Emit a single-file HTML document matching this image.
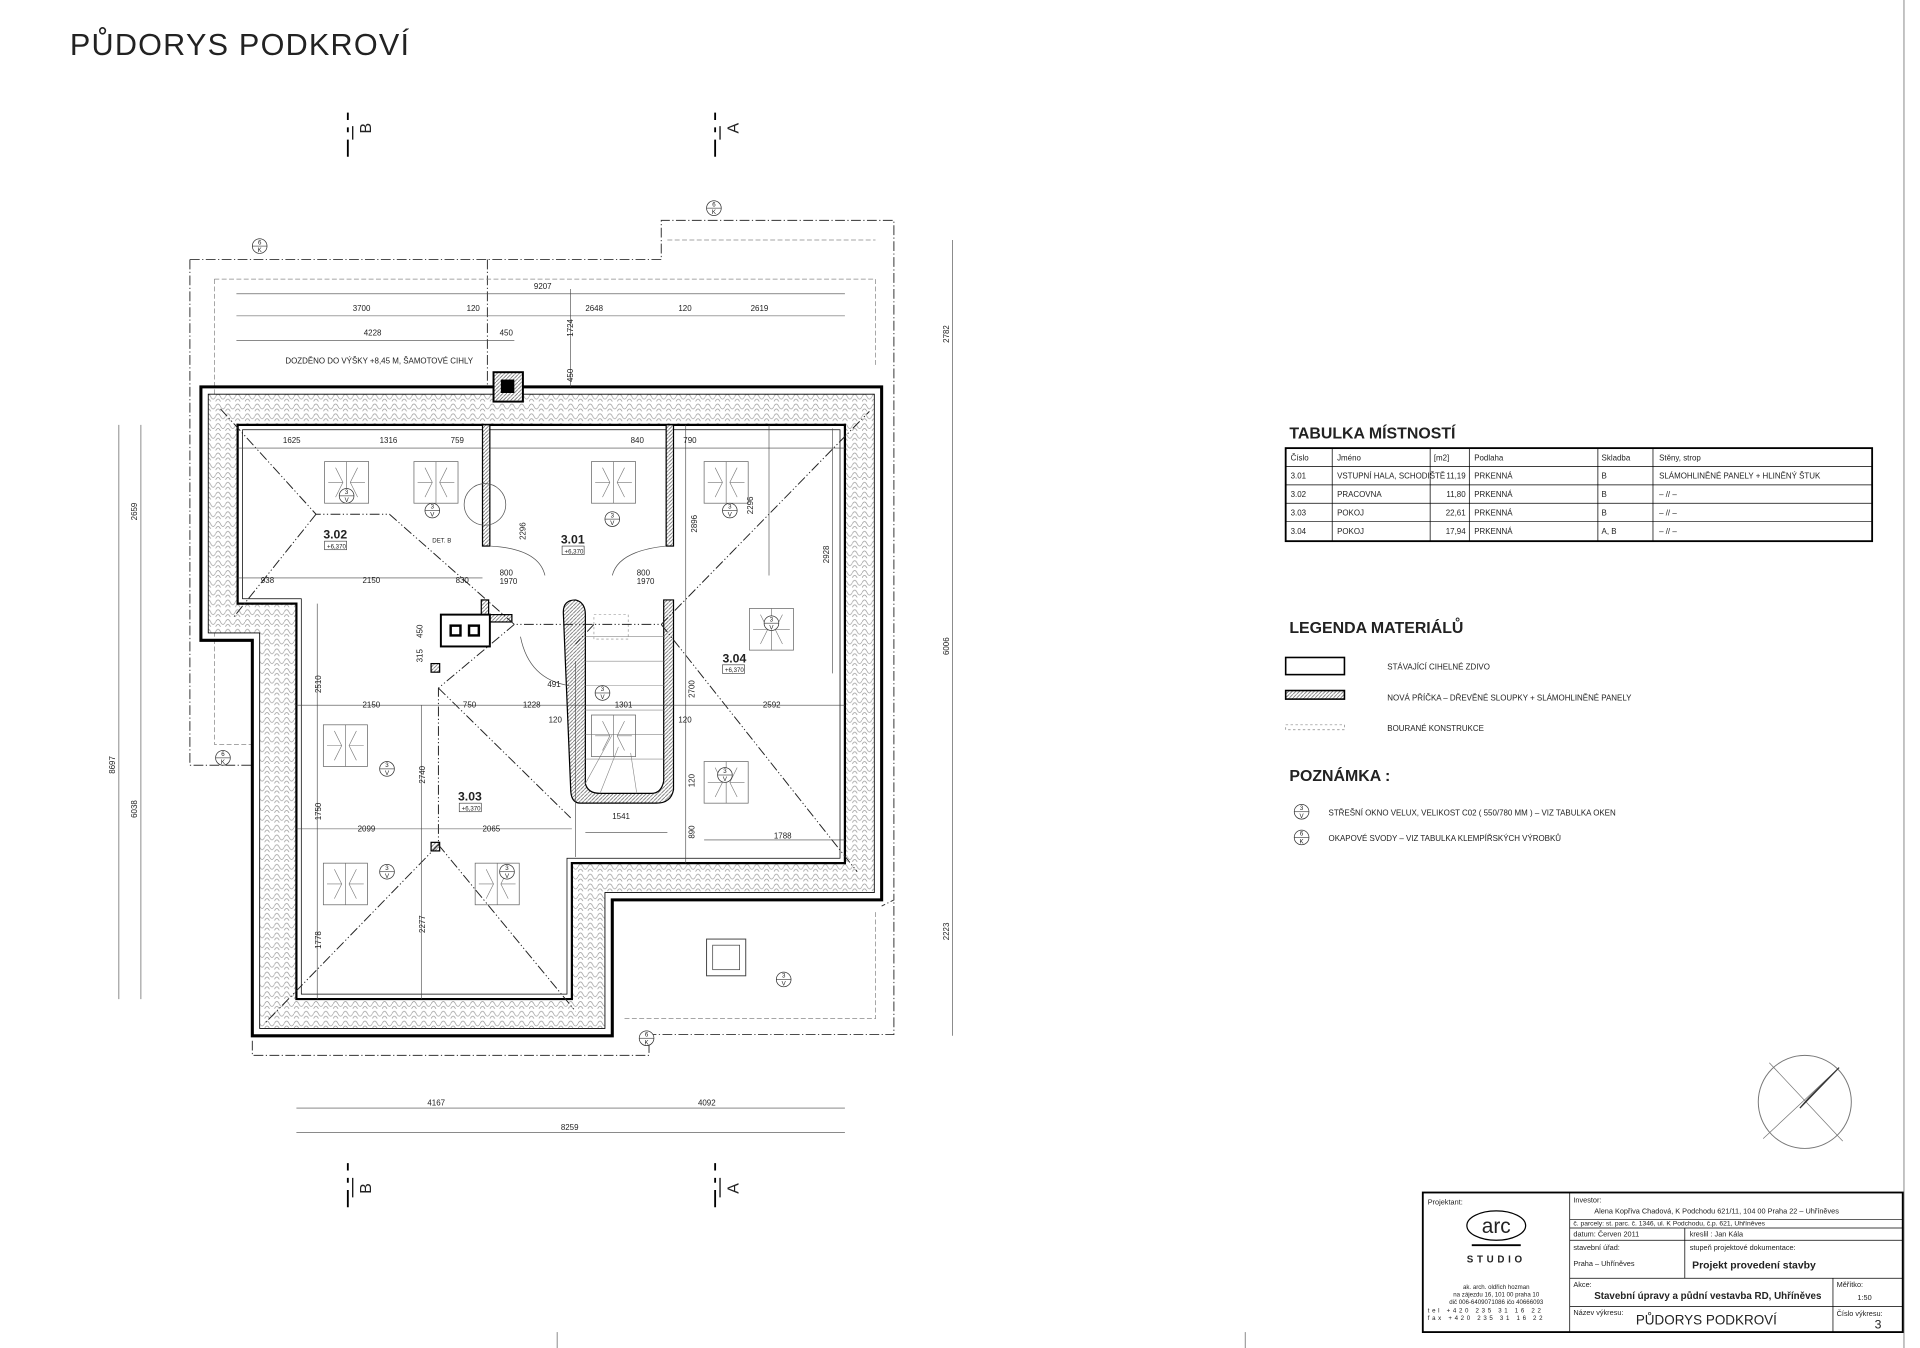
<!DOCTYPE html>
<html><head><meta charset="utf-8"><style>
html,body{margin:0;padding:0;background:#fff}
svg{display:block}
text{font-family:"Liberation Sans",sans-serif;fill:#222}
.s{font-size:6.5px}
.m{font-size:6.5px}
</style></head><body>
<svg width="1920" height="1348" viewBox="0 0 1568 1101" xmlns="http://www.w3.org/2000/svg">
<defs>
<pattern id="ins" width="8" height="8" patternUnits="userSpaceOnUse">
<rect width="8" height="8" fill="#fff"/>
<path d="M0 4 Q2 0 4 4 T8 4 M0 8 Q2 4 4 8 T8 8" fill="none" stroke="#999" stroke-width="0.6"/>
</pattern>
<pattern id="hat" width="3" height="3" patternUnits="userSpaceOnUse">
<rect width="3" height="3" fill="#fff"/><path d="M0 3 L3 0" stroke="#666" stroke-width="0.6"/>
</pattern>
<g id="win">
<rect x="0" y="0" width="36" height="34" fill="none" stroke="#666" stroke-width="0.6"/>
<line x1="18" y1="0" x2="18" y2="34" stroke="#666" stroke-width="0.5"/>
<path d="M3 17 L15 17 M9 5 L15 17 L9 29 M33 17 L21 17 M27 5 L21 17 L27 29" fill="none" stroke="#777" stroke-width="0.5"/>
</g>
<g id="vel"><circle r="6" fill="#fff" stroke="#333" stroke-width="0.6"/><line x1="-6" y1="0" x2="6" y2="0" stroke="#333" stroke-width="0.5"/><text x="0" y="-1.5" font-size="5" text-anchor="middle">3</text><text x="0" y="5" font-size="5" text-anchor="middle">V</text></g>
<g id="ok"><circle r="6" fill="#fff" stroke="#333" stroke-width="0.6"/><line x1="-6" y1="0" x2="6" y2="0" stroke="#333" stroke-width="0.5"/><text x="0" y="-1.5" font-size="5" text-anchor="middle">6</text><text x="0" y="5" font-size="5" text-anchor="middle">K</text></g>
</defs>

<text x="57" y="45" font-size="25" style="font-weight:300;letter-spacing:1px" fill="#111">PŮDORYS PODKROVÍ</text>

<line x1="1555" y1="0" x2="1555" y2="1101" stroke="#888" stroke-width="0.8"/>
<line x1="455" y1="1088" x2="455" y2="1101" stroke="#888" stroke-width="0.8"/>
<line x1="1017" y1="1088" x2="1017" y2="1101" stroke="#888" stroke-width="0.8"/>

<g fill="none" stroke="#333" stroke-width="0.8" stroke-dasharray="8 2 1 2">
<path d="M155 212 L540 212 L540 180 L730 180 L730 735 L720 740"/>
<path d="M155 212 L155 625 L206 625"/>
<path d="M206 850 L206 862 L530 862 L530 845 L730 845 L730 735"/>
<path d="M398 212 L398 316"/>
</g>
<g fill="none" stroke="#888" stroke-width="0.6" stroke-dasharray="4 2">
<path d="M175 228 L715 228 L715 300 M175 228 L175 608 L206 608"/>
<path d="M545 196 L715 196"/>
<path d="M510 832 L715 832 L715 745"/>
</g>

<path fill-rule="evenodd" fill="url(#ins)" stroke="none" d="M170 322 L714 322 L714 729 L494 729 L494 840 L212 840 L212 517 L170 517 Z M194 347 L690 347 L690 705 L467 705 L467 816 L242 816 L242 493 L194 493 Z"/>
<path fill="none" stroke="#000" stroke-width="2.5" d="M164 316 L720 316 L720 735 L500 735 L500 846 L206 846 L206 523 L164 523 Z"/>
<path fill="none" stroke="#000" stroke-width="0.7" d="M170 322 L714 322 L714 729 L494 729 L494 840 L212 840 L212 517 L170 517 Z"/>
<path fill="none" stroke="#000" stroke-width="1.8" d="M194 347 L690 347 L690 705 L467 705 L467 816 L242 816 L242 493 L194 493 Z"/>
<path fill="none" stroke="#000" stroke-width="0.6" d="M198 351 L686 351 L686 701 L463 701 L463 812 L246 812 L246 489 L198 489 Z"/>

<rect x="394" y="347" width="6" height="99" fill="url(#hat)" stroke="#000" stroke-width="1"/>
<rect x="544" y="347" width="6" height="99" fill="url(#hat)" stroke="#000" stroke-width="1"/>
<rect x="393" y="490" width="6" height="14" fill="url(#hat)" stroke="#000" stroke-width="1"/>
<rect x="400" y="502" width="18" height="6" fill="url(#hat)" stroke="#000" stroke-width="1"/>
<path d="M460 500 Q460 490 470 490 Q478 492 478 502 L478 640 Q480 648 490 648 L532 648 Q540 648 542 638 L542 490 L550 490 L550 645 Q548 656 536 656 L474 656 Q466 656 466 644 Z" fill="url(#hat)" stroke="#000" stroke-width="1"/>
<g stroke="#888" stroke-width="0.5" fill="none">
<path d="M478 520 L542 520 M478 540 L542 540 M478 560 L542 560 M478 580 L542 580 M478 600 L542 600 M478 620 L542 620 M478 640 L500 600 M490 648 L505 610 M520 648 L515 615"/>
<rect x="485" y="502" width="28" height="20" stroke-dasharray="2 2"/>
</g>
<rect x="360" y="502" width="40" height="26" fill="#fff" stroke="#000" stroke-width="1.6"/>
<rect x="367" y="510" width="10" height="10" fill="#000"/><rect x="382" y="510" width="10" height="10" fill="#000"/>
<rect x="369" y="512" width="6" height="6" fill="#fff"/><rect x="384" y="512" width="6" height="6" fill="#fff"/>
<rect x="403" y="304" width="24" height="24" fill="url(#hat)" stroke="#000" stroke-width="1.6"/>
<rect x="409" y="310" width="11" height="11" fill="#000"/>
<rect x="352" y="542" width="7" height="7" fill="url(#hat)" stroke="#000"/>
<rect x="352" y="688" width="7" height="7" fill="url(#hat)" stroke="#000"/>

<g fill="none" stroke="#222" stroke-width="0.8" stroke-dasharray="8 2 1 2 1 2">
<path d="M180 334 L258 420 L318 420 L420 510 L540 510 L710 336"/>
<path d="M258 420 L190 505"/>
<path d="M540 510 L700 712"/>
<path d="M420 510 L358 562 L358 690 L216 836"/>
<path d="M358 562 L466 668"/>
<path d="M358 690 L470 826"/>
<path d="M485 510 L470 526"/>
</g>

<g fill="none" stroke="#555" stroke-width="0.6">
<path d="M400 446 Q440 448 445 470 M544 446 Q505 450 500 470"/>
<path d="M425 520 Q432 555 465 560"/>
<circle cx="396" cy="412" r="17"/>
</g>

<use href="#win" x="265" y="377"/><use href="#win" x="338" y="377"/>
<use href="#win" x="483" y="377"/><use href="#win" x="575" y="377"/>
<use href="#win" x="612" y="497"/><use href="#win" x="483" y="584"/>
<use href="#win" x="264" y="592"/><use href="#win" x="575" y="622"/>
<use href="#win" x="264" y="705"/><use href="#win" x="388" y="705"/>
<rect x="577" y="767" width="32" height="30" fill="none" stroke="#444" stroke-width="0.8"/>
<rect x="582" y="772" width="22" height="20" fill="none" stroke="#444" stroke-width="0.6"/>
<use href="#vel" x="283" y="405"/><use href="#vel" x="353" y="417"/><use href="#vel" x="500" y="424"/><use href="#vel" x="596" y="417"/>
<use href="#vel" x="630" y="509"/><use href="#vel" x="492" y="566"/><use href="#vel" x="316" y="628"/><use href="#vel" x="592" y="633"/>
<use href="#vel" x="316" y="712"/><use href="#vel" x="414" y="712"/><use href="#vel" x="640" y="800"/>
<use href="#ok" x="212" y="201"/><use href="#ok" x="583" y="170"/><use href="#ok" x="182" y="619"/><use href="#ok" x="528" y="848"/>

<g font-weight="bold" font-size="10"><text x="264" y="440">3.02</text><text x="458" y="444">3.01</text><text x="590" y="541">3.04</text><text x="374" y="654">3.03</text></g>
<g font-size="5"><rect x="265" y="442" width="18" height="7" fill="none" stroke="#333" stroke-width="0.5"/><text x="267" y="448">+6,370</text>
<rect x="459" y="446" width="18" height="7" fill="none" stroke="#333" stroke-width="0.5"/><text x="461" y="452">+6,370</text>
<rect x="590" y="543" width="18" height="7" fill="none" stroke="#333" stroke-width="0.5"/><text x="592" y="549">+6,370</text>
<rect x="375" y="656" width="18" height="7" fill="none" stroke="#333" stroke-width="0.5"/><text x="377" y="662">+6,370</text></g>

<g stroke="#444" stroke-width="0.5" fill="none">
<path d="M193 240 L690 240 M193 258 L690 258 M193 278 L420 278"/>
<path d="M194 366 L394 366 M400 366 L690 366 M194 472 L394 472 M242 576 L690 576 M242 677 L467 677 M478 680 L545 680 M575 686 L690 686"/>
<path d="M97 347 L97 816 M115 347 L115 816 M778 196 L778 846"/>
<path d="M242 905 L690 905 M242 925 L690 925"/>
<path d="M259 493 L259 816 M344 576 L344 816 M470 540 L470 700 M560 347 L560 705 M628 347 L628 470 M680 350 L680 550 M466 236 L466 316"/>
</g>
<g class="s">
<text x="436" y="236">9207</text><text x="288" y="254">3700</text><text x="381" y="254">120</text><text x="478" y="254">2648</text><text x="554" y="254">120</text><text x="613" y="254">2619</text>
<text x="297" y="274">4228</text><text x="408" y="274">450</text>
<text x="231" y="362">1625</text><text x="310" y="362">1316</text><text x="368" y="362">759</text><text x="515" y="362">840</text><text x="558" y="362">790</text>
<text x="213" y="476">938</text><text x="296" y="476">2150</text><text x="372" y="476">830</text><text x="408" y="470">800</text><text x="408" y="477">1970</text><text x="520" y="470">800</text><text x="520" y="477">1970</text>
<text x="296" y="578">2150</text><text x="378" y="578">750</text><text x="427" y="578">1228</text><text x="502" y="578">1301</text><text x="623" y="578">2592</text>
<text x="447" y="561">491</text><text x="448" y="590">120</text><text x="554" y="590">120</text>
<text x="292" y="679">2099</text><text x="394" y="679">2065</text><text x="500" y="669">1541</text><text x="632" y="685">1788</text>
<text x="349" y="903">4167</text><text x="570" y="903">4092</text><text x="458" y="923">8259</text>
<text x="233" y="297">DOZDĚNO DO VÝŠKY +8,45 M, ŠAMOTOVÉ CIHLY</text><text x="353" y="443" font-size="5">DET. B</text>
</g>
<g class="s">
<text transform="translate(112,425) rotate(-90)">2659</text><text transform="translate(94,632) rotate(-90)">8697</text><text transform="translate(112,668) rotate(-90)">6038</text>
<text transform="translate(775,280) rotate(-90)">2782</text><text transform="translate(775,535) rotate(-90)">6006</text><text transform="translate(775,768) rotate(-90)">2223</text>
<text transform="translate(429,441) rotate(-90)">2296</text><text transform="translate(569,435) rotate(-90)">2896</text><text transform="translate(615,420) rotate(-90)">2296</text><text transform="translate(677,460) rotate(-90)">2928</text>
<text transform="translate(262,566) rotate(-90)">2510</text><text transform="translate(347,640) rotate(-90)">2740</text><text transform="translate(262,670) rotate(-90)">1750</text><text transform="translate(262,775) rotate(-90)">1778</text><text transform="translate(347,762) rotate(-90)">2277</text>
<text transform="translate(567,570) rotate(-90)">2700</text><text transform="translate(567,685) rotate(-90)">890</text><text transform="translate(567,643) rotate(-90)">120</text><text transform="translate(345,521) rotate(-90)">450</text><text transform="translate(345,541) rotate(-90)">315</text><text transform="translate(468,312) rotate(-90)">450</text>
<text transform="translate(468,275) rotate(-90)">1724</text>
</g>

<g stroke="#000" stroke-width="1.5" fill="none">
<path d="M284 92 L284 98 M284 104 L284 108 M284 114 L284 128"/>
<path d="M584 92 L584 98 M584 104 L584 108 M584 114 L584 128"/>
<path d="M284 950 L284 956 M284 962 L284 966 M284 972 L284 986"/>
<path d="M584 950 L584 956 M584 962 L584 966 M584 972 L584 986"/>
<path d="M288 103 L288 114 M588 103 L588 114 M288 962 L288 978 M588 962 L588 978" stroke-width="1"/>
</g>
<g font-size="13"><text transform="translate(303,109) rotate(-90)">B</text><text transform="translate(603,109) rotate(-90)">A</text><text transform="translate(303,975) rotate(-90)">B</text><text transform="translate(603,975) rotate(-90)">A</text></g>

<text x="1053" y="358" font-size="13" style="font-weight:bold" fill="#111">TABULKA MÍSTNOSTÍ</text>
<g fill="none" stroke="#000"><rect x="1050" y="366" width="479" height="76" stroke-width="1.5"/>
<path d="M1050 381 L1529 381 M1050 396 L1529 396 M1050 411 L1529 411 M1050 426 L1529 426 M1088 366 L1088 442 M1168 366 L1168 442 M1200 366 L1200 442 M1305 366 L1305 442 M1350 366 L1350 442" stroke-width="0.6"/></g>
<g class="m">
<text x="1054" y="376">Číslo</text><text x="1092" y="376">Jméno</text><text x="1171" y="376">[m2]</text><text x="1204" y="376">Podlaha</text><text x="1308" y="376">Skladba</text><text x="1355" y="376">Stěny, strop</text>
<text x="1054" y="391">3.01</text><text x="1092" y="391">VSTUPNÍ HALA, SCHODIŠTĚ</text><text x="1197" y="391" text-anchor="end">11,19</text><text x="1204" y="391">PRKENNÁ</text><text x="1308" y="391">B</text><text x="1355" y="391">SLÁMOHLINĚNÉ PANELY + HLINĚNÝ ŠTUK</text>
<text x="1054" y="406">3.02</text><text x="1092" y="406">PRACOVNA</text><text x="1197" y="406" text-anchor="end">11,80</text><text x="1204" y="406">PRKENNÁ</text><text x="1308" y="406">B</text><text x="1355" y="406">– // –</text>
<text x="1054" y="421">3.03</text><text x="1092" y="421">POKOJ</text><text x="1197" y="421" text-anchor="end">22,61</text><text x="1204" y="421">PRKENNÁ</text><text x="1308" y="421">B</text><text x="1355" y="421">– // –</text>
<text x="1054" y="436">3.04</text><text x="1092" y="436">POKOJ</text><text x="1197" y="436" text-anchor="end">17,94</text><text x="1204" y="436">PRKENNÁ</text><text x="1308" y="436">A, B</text><text x="1355" y="436">– // –</text>
</g>

<text x="1053" y="517" font-size="13" style="font-weight:bold" fill="#111">LEGENDA MATERIÁLŮ</text>
<rect x="1050" y="537" width="48" height="14" fill="#fff" stroke="#000" stroke-width="1.3"/>
<rect x="1050" y="564" width="48" height="7" fill="url(#hat)" stroke="#000" stroke-width="1.3"/>
<rect x="1050" y="592" width="48" height="4" fill="none" stroke="#888" stroke-width="0.6" stroke-dasharray="2 2"/>
<g class="m"><text x="1133" y="547">STÁVAJÍCÍ CIHELNÉ ZDIVO</text><text x="1133" y="572">NOVÁ PŘÍČKA – DŘEVĚNÉ SLOUPKY + SLÁMOHLINĚNÉ PANELY</text><text x="1133" y="597">BOURANÉ KONSTRUKCE</text></g>
<text x="1053" y="638" font-size="13" style="font-weight:bold" fill="#111">POZNÁMKA :</text>
<use href="#vel" x="1063" y="663"/><use href="#ok" x="1063" y="684"/>
<g class="m"><text x="1085" y="666">STŘEŠNÍ OKNO VELUX, VELIKOST C02 ( 550/780 MM ) – VIZ TABULKA OKEN</text><text x="1085" y="687">OKAPOVÉ SVODY – VIZ TABULKA KLEMPÍŘSKÝCH VÝROBKŮ</text></g>

<circle cx="1474" cy="900" r="38" fill="none" stroke="#777" stroke-width="0.8"/>
<path d="M1445 868 L1505 932 M1440 930 L1502 872" stroke="#777" stroke-width="0.6"/>
<path d="M1502 872 L1470 905 L1477 897 Z" fill="#333" stroke="#333"/>

<g fill="none" stroke="#000">
<rect x="1162" y="974" width="392" height="114" stroke-width="1.5"/>
<path d="M1282 974 L1282 1088 M1282 996 L1554 996 M1282 1003 L1554 1003 M1282 1013 L1554 1013 M1282 1044 L1554 1044 M1282 1067 L1554 1067 M1376 1003 L1376 1044 M1497 1044 L1497 1088" stroke-width="0.6"/>
<ellipse cx="1222" cy="1001" rx="24" ry="12" stroke-width="1"/>
<line x1="1202" y1="1017" x2="1242" y2="1017" stroke-width="1.5"/>
</g>
<g font-size="6">
<text x="1166" y="984">Projektant:</text>
<text x="1222" y="1007" font-size="17" text-anchor="middle" style="font-weight:300">arc</text>
<text x="1222" y="1031" font-size="8" text-anchor="middle" style="font-weight:bold;letter-spacing:3px">STUDIO</text>
<text x="1222" y="1053" font-size="5" text-anchor="middle">ak. arch. oldřich hozman</text>
<text x="1222" y="1059" font-size="5" text-anchor="middle">na zájezdu 16, 101 00 praha 10</text>
<text x="1222" y="1065" font-size="5" text-anchor="middle">dič 006-6409071086 ičo 40666093</text>
<text x="1166" y="1072" font-size="5" style="letter-spacing:2.2px">tel  +420 235 31 16 22</text>
<text x="1166" y="1078" font-size="5" style="letter-spacing:2.2px">fax  +420 235 31 16 22</text>
<text x="1285" y="982">Investor:</text>
<text x="1302" y="991">Alena Kopřiva Chadová, K Podchodu 621/11, 104 00 Praha 22 – Uhříněves</text>
<text x="1285" y="1001" font-size="5.5">č. parcely: st. parc. č. 1346, ul. K Podchodu, č.p. 621, Uhříněves</text>
<text x="1285" y="1010">datum:     Červen 2011</text><text x="1380" y="1010">kreslil :    Jan Kála</text>
<text x="1285" y="1021">stavební úřad:</text><text x="1380" y="1021">stupeň projektové dokumentace:</text>
<text x="1285" y="1034">Praha – Uhříněves</text>
<text x="1382" y="1036" font-size="8.5" style="font-weight:bold">Projekt provedení stavby</text>
<text x="1285" y="1051">Akce:</text><text x="1302" y="1061" font-size="8" style="font-weight:bold">Stavební úpravy a půdní vestavba RD, Uhříněves</text>
<text x="1500" y="1051">Měřítko:</text><text x="1517" y="1062">1:50</text>
<text x="1285" y="1074">Název výkresu:</text><text x="1336" y="1082" font-size="11">PŮDORYS PODKROVÍ</text>
<text x="1500" y="1075">Číslo výkresu:</text><text x="1531" y="1085" font-size="10">3</text>
</g>
</svg>
</body></html>
